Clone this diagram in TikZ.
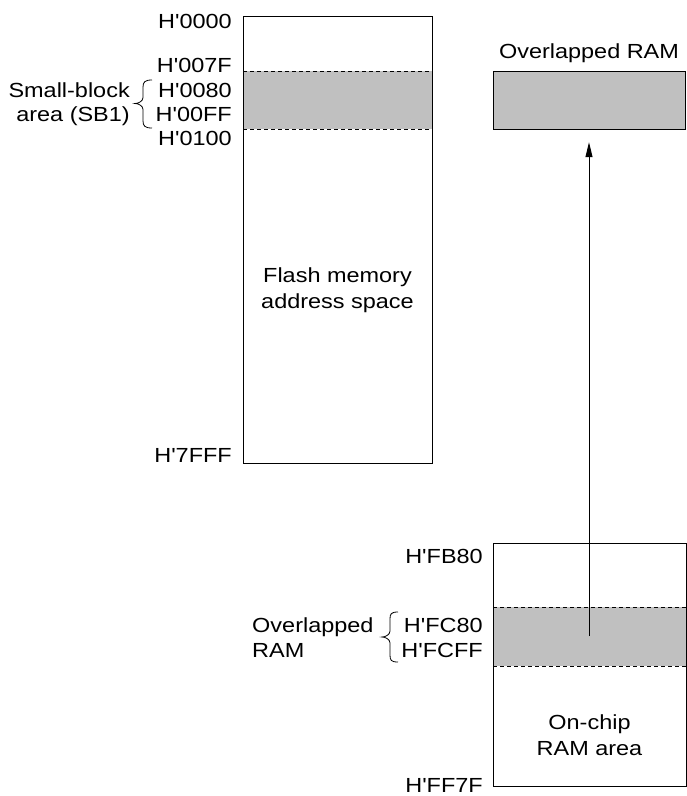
\documentclass[tikz,border=0pt]{standalone}
\usepackage{fontspec}
\newfontfamily\lbfont{Liberation Sans}
\usetikzlibrary{arrows.meta}
\definecolor{bandgray}{HTML}{C0C0C0}
\begin{document}
\begin{tikzpicture}[x=1pt,y=-1pt,
  lbl/.style={font=\lbfont\fontsize{20.4}{24}\selectfont, xscale=1.15, inner sep=0pt},
  boxline/.style={draw, line width=1.2pt, inner sep=0pt, anchor=north west},
  dashline/.style={line width=1pt, dash pattern=on 4pt off 3pt},
  brc/.style={line width=0.8pt},
  arr/.style={line width=1pt, -{Triangle[length=15pt,width=7pt]}}]
\useasboundingbox (0,0) rectangle (687,796);

% ---- flash memory box ----
\fill[bandgray] (243,71) rectangle (432,129);
\draw[dashline] (243,71) -- (432,71);
\draw[dashline] (243,129) -- (432,129);
\node[boxline, minimum width=189pt, minimum height=447pt] (flash) at (243,16) {};

\node[lbl, anchor=base] (f1) at (337.5,282) {Flash memory};
\node[lbl, anchor=base] (f2) at (337.5,308) {address space};

\node[lbl, anchor=base east] (a0000) at (232,28.5) {H'0000};
\node[lbl, anchor=base east] (a007F) at (232,72) {H'007F};
\node[lbl, anchor=base east] (a0080) at (232,97) {H'0080};
\node[lbl, anchor=base east] (a00FF) at (232,121) {H'00FF};
\node[lbl, anchor=base east] (a0100) at (232,145) {H'0100};
\node[lbl, anchor=base east] (a7FFF) at (232,462) {H'7FFF};

\node[lbl, anchor=base east] (sb1) at (130,97) {Small-block};
\node[lbl, anchor=base east] (sb2) at (130,121) {area (SB1)};

% brace (SB1)
\draw[brc] (152,80) .. controls (145,80) and (143,82) .. (143,87)
  -- (143,97.5) .. controls (143,101.5) and (138,103.5) .. (135,103.5)
  .. controls (138,103.5) and (143,105.5) .. (143,109.5)
  -- (143,121) .. controls (143,126) and (145,128) .. (152,128);

% ---- overlapped RAM (top right) ----
\node[lbl, anchor=base] (ovlbl) at (589,58.5) {Overlapped RAM};
\node[boxline, fill=bandgray, minimum width=192pt, minimum height=58pt] (ovbox) at (493,71) {};

% ---- on-chip RAM box ----
\fill[bandgray] (493,607) rectangle (686,666);
\draw[dashline] (493,607) -- (686,607);
\draw[dashline] (493,666) -- (686,666);
\node[boxline, minimum width=193pt, minimum height=243pt] (ram) at (493,543) {};
\coordinate (ramov) at (589,636);

\node[lbl, anchor=base] (r1) at (589.5,729) {On-chip};
\node[lbl, anchor=base] (r2) at (589.5,755) {RAM area};

\node[lbl, anchor=base east] (aFB80) at (483,563) {H'FB80};
\node[lbl, anchor=base east] (aFC80) at (483,632) {H'FC80};
\node[lbl, anchor=base east] (aFCFF) at (483,657) {H'FCFF};
\node[lbl, anchor=base east] (aFF7F) at (483,792) {H'FF7F};

\node[lbl, anchor=base west] (ov1) at (252,632) {Overlapped};
\node[lbl, anchor=base west] (ov2) at (252,657) {RAM};

% brace (overlapped RAM)
\draw[brc] (398,612) .. controls (391,612) and (390,614) .. (390,619)
  -- (390,631) .. controls (390,635) and (385,637) .. (382,637)
  .. controls (385,637) and (390,639) .. (390,643)
  -- (390,655) .. controls (390,660) and (391,662) .. (398,662);

% ---- arrow ----
\draw[arr, shorten >=12pt] (ramov) -- (ovbox.south -| ramov);
\end{tikzpicture}
\end{document}
